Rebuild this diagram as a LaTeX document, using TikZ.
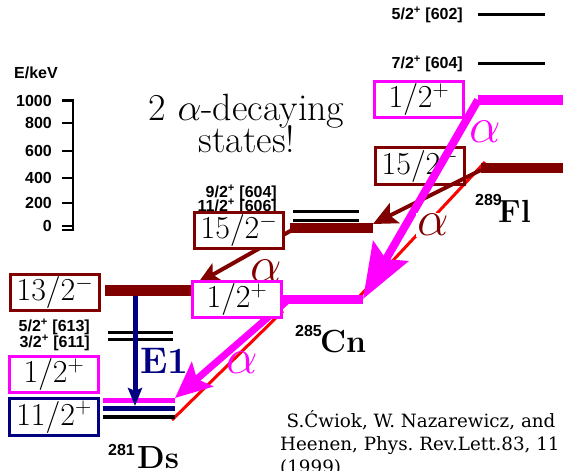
\RequirePackage{fix-cm}
\documentclass[tikz,border=0pt]{standalone}
\usepackage{fontspec}
\usetikzlibrary{arrows.meta}
\newfontfamily\lsans{Liberation Sans}
\newfontfamily\dvserif{DejaVu Serif}
\definecolor{mag}{RGB}{255,0,255}
\definecolor{dred}{RGB}{128,0,0}
\definecolor{navyb}{RGB}{0,0,128}
\definecolor{redl}{RGB}{255,0,0}
\frenchspacing
\begin{document}
\begin{tikzpicture}[x=1pt,y=-1pt,
  statebox/.style={draw=#1, line width=2.7pt, fill=white, inner sep=0pt,
    minimum width=89.5pt, minimum height=36.5pt, font=\fontsize{32}{32}\selectfont},
  sl/.style={font=\lsans\bfseries\fontsize{16}{16}\selectfont, inner sep=0pt},
  alf/.style={text=#1, inner sep=1.5pt, font=\fontsize{50}{50}\selectfont},
  nuc/.style={font=\bfseries\fontsize{32}{32}\selectfont, inner sep=0pt, anchor=base west},
  nucnum/.style={font=\lsans\bfseries\fontsize{16}{16}\selectfont, inner sep=0pt, anchor=base west},
  lvl/.style={line width=#1, line cap=butt},
  thinlvl/.style={line width=3pt, line cap=butt},
  refl/.style={font=\dvserif\fontsize{18.3}{18.3}\selectfont, inner sep=0pt, anchor=base west}
]
\useasboundingbox (0,0) rectangle (563,471);

% ---------- coordinates of level ends ----------
\coordinate (fl12L) at (478,100);  \coordinate (fl12R) at (563,100);
\coordinate (fl15L) at (481,168);  \coordinate (fl15R) at (563,168);
\coordinate (fl72L) at (478,63);   \coordinate (fl72R) at (545,63);
\coordinate (fl52L) at (478,14);   \coordinate (fl52R) at (545,14);
\coordinate (cn15L) at (290,228);  \coordinate (cn15R) at (373,228);
\coordinate (cn92L) at (293,211);  \coordinate (cn92R) at (359,211);
\coordinate (cn112L) at (293,220); \coordinate (cn112R) at (359,220);
\coordinate (cn12L) at (280,299);  \coordinate (cn12R) at (363,299);
\coordinate (ds13L) at (105,290.5);\coordinate (ds13R) at (192,290.5);
\coordinate (ds52L) at (108,332);  \coordinate (ds52R) at (173,332);
\coordinate (ds32L) at (108,339);  \coordinate (ds32R) at (173,339);
\coordinate (ds12L) at (103,400);  \coordinate (ds12R) at (175,400);
\coordinate (ds11L) at (103,408);  \coordinate (ds11R) at (175,408);
\coordinate (dsgL) at (103,417);   \coordinate (dsgR) at (175,417);
% arrow ends
\coordinate (rA) at (485,162);  \coordinate (rB) at (357,299);
\coordinate (rC) at (283,311);  \coordinate (rD) at (172,420);
\coordinate (dA) at (481,170);  \coordinate (dB) at (373,224);
\coordinate (dC) at (292,230);  \coordinate (dD) at (198,283);
\coordinate (mC) at (288,300);  \coordinate (mD) at (175,398);
\coordinate (eA) at (135,296);  \coordinate (eB) at (135,406);

% ---------- energy axis ----------
\node[sl] (ekev) at (36,73) {E/keV};
\draw[line width=2.5pt] (62,100) -- (73,100) -- (73,230) -- (62,230);
\foreach \v/\y in {1000/101,800/123,600/151,400/178,200/203,0/226}{
  \draw[line width=2.5pt] (62,\y) -- (73,\y);
  \node[sl, anchor=east] (t\v) at (52,\y) {\v};
}

% ---------- headline ----------
\node[inner sep=0pt, anchor=base, font=\fontsize{38}{38}\selectfont] (h1) at (246.5,120) {2 $\alpha$-decaying};
\node[inner sep=0pt, anchor=base, font=\fontsize{38}{38}\selectfont] (h2) at (247,152.5) {states!};

% ---------- red lines ----------
\draw[redl, line width=3pt] (rA) -- (rB);
\draw[redl, line width=3pt] (rC) -- (rD);

% ---------- thin black levels ----------
\draw[thinlvl] (fl52L) -- (fl52R);
\draw[thinlvl] (fl72L) -- (fl72R);
\draw[thinlvl] (cn92L) -- (cn92R);
\draw[thinlvl] (cn112L) -- (cn112R);
\draw[thinlvl] (ds52L) -- (ds52R);
\draw[thinlvl] (ds32L) -- (ds32R);
\draw[lvl=4pt] (dsgL) -- (dsgR);

% ---------- coloured levels ----------
\draw[lvl=10pt, mag] (fl12L) -- (fl12R);
\draw[lvl=10pt, dred] (fl15L) -- (fl15R);
\draw[lvl=10pt, dred] (cn15L) -- (cn15R);
\draw[lvl=9pt, mag] (cn12L) -- (cn12R);
\draw[lvl=11pt, dred] (ds13L) -- (ds13R);
\draw[lvl=5pt, mag] (ds12L) -- (ds12R);
\draw[lvl=5pt, navyb] (ds11L) -- (ds11R);

% ---------- labels of black levels ----------
\node[sl, anchor=east] (l602) at (463,15) {5/2\textsuperscript{+} [602]};
\node[sl, anchor=east] (l604a) at (463,64) {7/2\textsuperscript{+} [604]};
\node[sl, anchor=east] (l604b) at (277,193) {9/2\textsuperscript{+} [604]};
\node[sl, anchor=east] (l606) at (277,207) {11/2\textsuperscript{+} [606]};
\node[sl, anchor=east] (l613) at (90,327) {5/2\textsuperscript{+} [613]};
\node[sl, anchor=east] (l611) at (90,343) {3/2\textsuperscript{+} [611]};

% ---------- Fl boxes ----------
\node[statebox=mag] (bfl12) at (419,99.5) {$1/2^+$};
\node[statebox=dred] (bfl15) at (420,166) {$15/2^-$};

% ---------- decay arrows ----------
\draw[dred, line width=4pt, -{Stealth[length=24pt,width=22pt,inset=5pt]}] (dA) -- (dB);
\draw[mag, line width=8pt, -{Stealth[length=55pt,width=40pt,inset=9pt]}] (fl12L) -- (cn12R);
\draw[dred, line width=4pt, -{Stealth[length=22pt,width=20pt,inset=5pt]}] (dC) -- (dD);
\draw[mag, line width=7pt, -{Stealth[length=36pt,width=32pt,inset=7pt]}] (mC) -- (mD);
\draw[navyb, line width=5pt, -{Stealth[length=18pt,width=14pt,inset=3pt]}] (eA) -- (eB);

% ---------- alpha labels ----------
\node[alf=mag] (al1) at (485.5,131.5) {$\alpha$};
\node[alf=dred, fill=white] (al2) at (433,225) {$\alpha$};
\node[alf=dred] (al3) at (266,271) {$\alpha$};
\node[alf=mag] (al4) at (242.5,362.5) {$\alpha$};
\node[inner sep=0pt, anchor=base west, text=navyb, font=\bfseries\fontsize{37}{37}\selectfont] (e1) at (140,373) {E1};

% ---------- Cn and Ds boxes ----------
\node[statebox=dred] (bcn15) at (239,230.5) {$15/2^-$};
\node[statebox=mag] (bcn12) at (237,299.5) {$1/2^+$};
\node[statebox=dred] (bds13) at (55,292.5) {$13/2^-$};
\node[statebox=mag] (bds12) at (54,374.5) {$1/2^+$};
\node[statebox=navyb] (bds11) at (54,417) {$11/2^+$};

% ---------- nucleus names ----------
\node[nucnum] (n281) at (108,455) {281};
\node[nuc] (ds) at (137,468) {Ds};
\node[nucnum] (n285) at (295,336) {285};
\node[nuc] (cn) at (320,352) {Cn};
\node[nucnum] (n289) at (475,205) {289};
\node[nuc] (fl) at (498,222) {Fl};

% ---------- reference ----------
\node[refl] (ref1) at (286.5,427) {S.Ćwiok, W. Nazarewicz, and};
\node[refl] (ref2) at (280,450) {Heenen, Phys. Rev.Lett.83, 11};
\node[refl] (ref3) at (280,473) {(1999).};
\end{tikzpicture}
\end{document}
